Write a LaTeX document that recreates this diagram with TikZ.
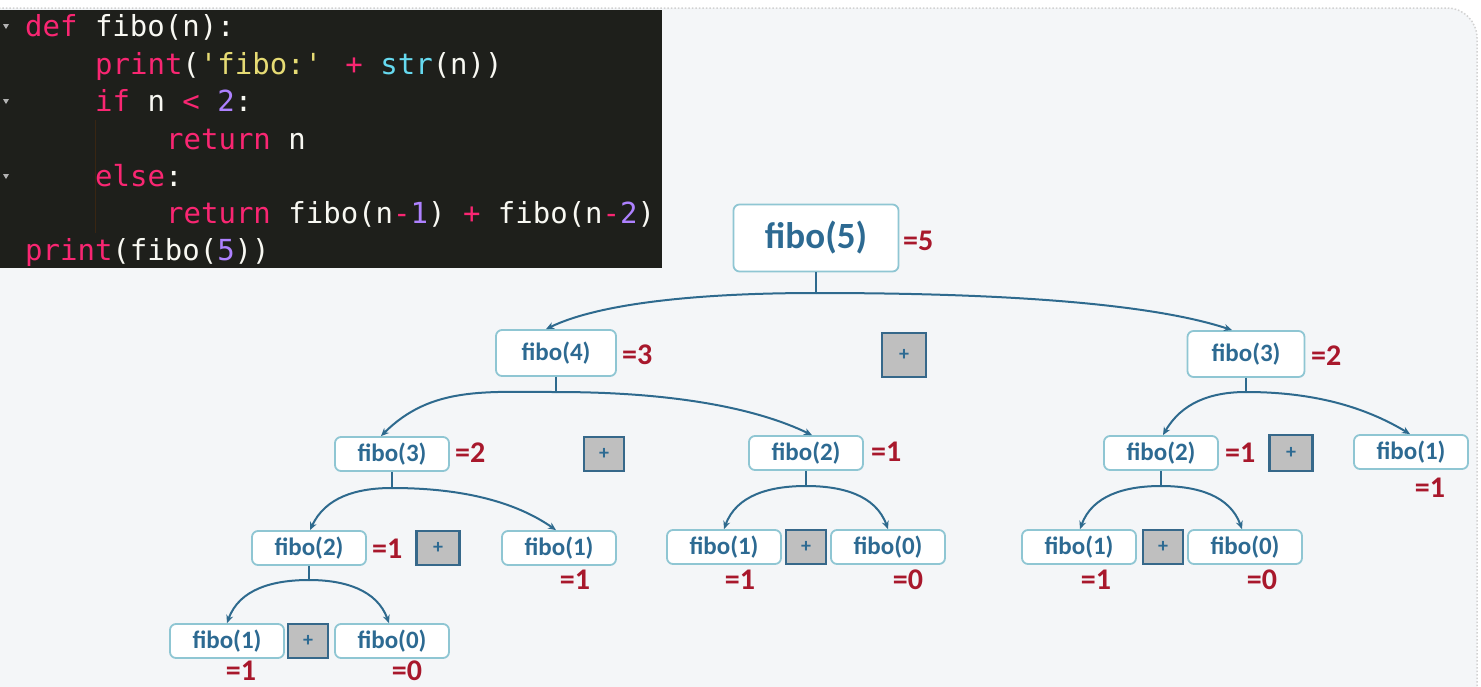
\documentclass[tikz,border=0pt]{standalone}
\usepackage{fontspec}
\setmainfont{Carlito}
\newfontfamily\codefont[Ligatures=TeXOff]{DejaVu Sans Mono}
\usetikzlibrary{arrows.meta,calc}
\definecolor{bgc}{HTML}{F4F6F8}
\definecolor{codebg}{HTML}{1E1F1B}
\definecolor{boxc}{HTML}{8FC6D3}
\definecolor{nodec}{HTML}{2D6A92}
\definecolor{valc}{HTML}{A8182C}
\definecolor{arrc}{HTML}{2E6A8E}
\definecolor{plusfill}{HTML}{BFBFBF}
\definecolor{plusdraw}{HTML}{36688A}
\definecolor{kwc}{HTML}{F92672}
\definecolor{strc}{HTML}{E6DB74}
\definecolor{cyc}{HTML}{66D9EF}
\definecolor{numc}{HTML}{AE81FF}
\definecolor{txtc}{HTML}{F8F8F2}
\newcommand{\kw}[1]{\textcolor{kwc}{#1}}
\newcommand{\stc}[1]{\textcolor{strc}{#1}}
\newcommand{\cyf}[1]{\textcolor{cyc}{#1}}
\newcommand{\nmc}[1]{\textcolor{numc}{#1}}
\tikzset{
  codeline/.style={anchor=base west, inner sep=0pt, text=txtc, font=\codefont\fontsize{29}{29}\selectfont},
  fnode/.style={draw=boxc, line width=1.8pt, rounded corners=6pt, fill=white, inner sep=0pt,
     minimum width=114pt, minimum height=34pt, text=nodec, font=\fontsize{25}{25}\selectfont\bfseries},
  midnode/.style={fnode, minimum width=120pt, minimum height=46pt},
  bignode/.style={fnode, minimum width=165pt, minimum height=67pt, font=\fontsize{37}{37}\selectfont\bfseries},
  val/.style={anchor=west, inner sep=0pt, text=valc, font=\fontsize{30}{30}\selectfont\bfseries},
  valb/.style={inner sep=0pt, text=valc, font=\fontsize{30}{30}\selectfont\bfseries},
  plusbox/.style={draw=plusdraw, line width=2.2pt, fill=plusfill, inner sep=0pt,
     minimum width=40pt, minimum height=34pt, text=nodec, font=\fontsize{20}{20}\selectfont\bfseries},
  conn/.style={draw=arrc, line width=2pt},
  arr/.style={conn, -{Stealth[length=8pt,width=7pt]}},
}
\begin{document}
\begin{tikzpicture}[x=1pt,y=1pt]
\useasboundingbox (0,0) rectangle (1481,-686);
\fill[white] (0,0) rectangle (1481,-686);
\filldraw[fill=bgc, draw=gray!35, dotted, line width=1.5pt, rounded corners=30pt] (-40,-8) rectangle (1477,-740);
% code panel
\fill[codebg] (0,-10) rectangle (662,-268);
\fill[gray!60] (3,-24) -- (9,-24) -- (6,-29) -- cycle;
\fill[gray!60] (3,-99) -- (9,-99) -- (6,-104) -- cycle;
\fill[gray!60] (3,-174) -- (9,-174) -- (6,-179) -- cycle;
\draw[color=black!70!brown, line width=1pt] (95,-120) -- (95,-233);
\node[codeline] (c1) at (25,-36) {\kw{def} fibo(n):};
\node[codeline] (c2) at (95,-74) {\kw{print}(\stc{'fibo:'} \kw{+} \cyf{str}(n))};
\node[codeline] (c3) at (95,-111) {\kw{if} n \kw{<} \nmc{2}:};
\node[codeline] (c4) at (166,-149) {\kw{return} n};
\node[codeline] (c5) at (95,-186) {\kw{else}:};
\node[codeline] (c6) at (166,-223) {\kw{return} fibo(n\kw{-}\nmc{1}) \kw{+} fibo(n\kw{-}\nmc{2})};
\node[codeline] (c7) at (25,-260) {\kw{print}(fibo(\nmc{5}))};
% level 1
\node[bignode] (f5) at (816,-238) {fibo(5)};
\node[val] (v5) at (903,-241) {=5};
% level 2
\node[midnode] (f4) at (556,-353) {fibo(4)};
\node[val] (v4) at (622,-355) {=3};
\node[plusbox, minimum width=44pt, minimum height=44pt] (p1) at (904,-355) {+};
\node[midnode, minimum width=117pt] (f3r) at (1246,-354) {fibo(3)};
\node[val] (v3r) at (1311,-356) {=2};
% level 3
\node[fnode] (f3l) at (392,-454) {fibo(3)};
\node[val] (v3l) at (455,-453) {=2};
\node[plusbox] (p2) at (604,-454) {+};
\node[fnode] (f2m) at (806,-453) {fibo(2)};
\node[val] (v2m) at (871,-452) {=1};
\node[fnode] (f2r) at (1161,-453) {fibo(2)};
\node[val] (v2r) at (1225,-453) {=1};
\node[plusbox, minimum width=43pt, minimum height=36pt] (p3) at (1291,-453) {+};
\node[fnode] (f1r) at (1411,-452) {fibo(1)};
\node[valb] (v1r) at (1430,-488) {=1};
% level 4
\node[fnode] (f2l) at (309,-548) {fibo(2)};
\node[val] (v2l) at (372,-549) {=1};
\node[plusbox, minimum width=43pt] (p4) at (438,-548) {+};
\node[fnode] (f1a) at (559,-548) {fibo(1)};
\node[valb] (v1a) at (575,-580) {=1};
\node[fnode] (f1b) at (724,-547) {fibo(1)};
\node[valb] (v1b) at (740,-580) {=1};
\node[plusbox] (p5) at (806,-547) {+};
\node[fnode] (f0b) at (888,-547) {fibo(0)};
\node[valb] (v0b) at (908,-580) {=0};
\node[fnode] (f1c) at (1079,-547) {fibo(1)};
\node[valb] (v1c) at (1096,-580) {=1};
\node[plusbox] (p6) at (1163,-547) {+};
\node[fnode] (f0c) at (1245,-547) {fibo(0)};
\node[valb] (v0c) at (1262,-580) {=0};
% level 5
\node[fnode] (f1d) at (227,-641) {fibo(1)};
\node[valb] (v1d) at (241,-671) {=1};
\node[plusbox] (p7) at (308,-641) {+};
\node[fnode] (f0d) at (392,-641) {fibo(0)};
\node[valb] (v0d) at (407,-671) {=0};
% junctions
\coordinate (j5) at (816,-293);
\coordinate (j4) at (556,-392);
\coordinate (j3r) at (1246,-392);
\coordinate (j3l) at (392,-488);
\coordinate (j2m) at (806,-486);
\coordinate (j2r) at (1161,-486);
\coordinate (j2l) at (309,-580);
% connectors
\draw[conn] (f5.south) -- (j5);
\draw[arr] (j5) .. controls (700,-293) and (600,-303) .. ([xshift=-10pt]f4.north);
\draw[arr] (j5) .. controls (1000,-293) and (1150,-303) .. ([xshift=-14pt]f3r.north);
\draw[conn] (f4.south) -- (j4);
\draw[arr] (j4) to[out=180,in=45] ([xshift=-11pt]f3l.north);
\draw[arr] (j4) .. controls (680,-392) and (760,-410) .. ([xshift=6pt]f2m.north);
\draw[conn] (f3r.south) -- (j3r);
\draw[arr] (j3r) to[out=180,in=60] ([xshift=2pt]f2r.north);
\draw[arr] (j3r) .. controls (1320,-392) and (1370,-410) .. ([xshift=-1pt]f1r.north);
\draw[conn] (f3l.south) -- (j3l);
\draw[arr] (j3l) to[out=180,in=65] ([xshift=1pt]f2l.north);
\draw[arr] (j3l) .. controls (470,-488) and (520,-505) .. ([xshift=-3pt]f1a.north);
\draw[conn] (f2m.south) -- (j2m);
\draw[arr] (j2m) to[out=180,in=70] (f1b.north);
\draw[arr] (j2m) to[out=0,in=110] (f0b.north);
\draw[conn] (f2r.south) -- (j2r);
\draw[arr] (j2r) to[out=180,in=70] ([xshift=1pt]f1c.north);
\draw[arr] (j2r) to[out=0,in=110] ([xshift=-3pt]f0c.north);
\draw[conn] (f2l.south) -- (j2l);
\draw[arr] (j2l) to[out=180,in=70] (f1d.north);
\draw[arr] (j2l) to[out=0,in=110] ([xshift=-3pt]f0d.north);
\end{tikzpicture}
\end{document}
